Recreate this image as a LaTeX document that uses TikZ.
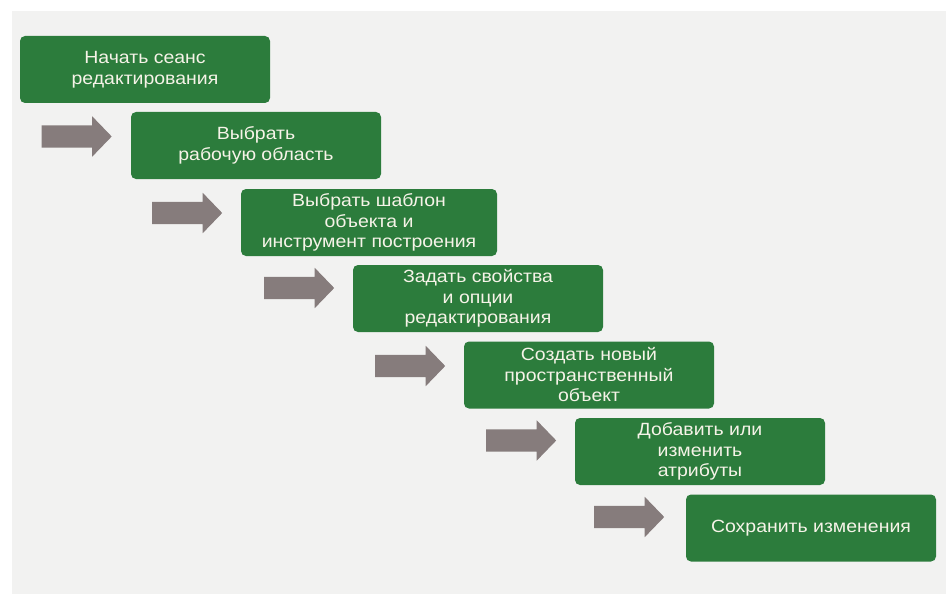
\documentclass[tikz,border=0pt]{standalone}
\usepackage{fontspec}
\setmainfont{Liberation Sans}[FakeStretch=1.1]
\usetikzlibrary{shapes.arrows}
\definecolor{stepgreen}{RGB}{44,124,60}
\definecolor{steptext}{RGB}{246,243,232}
\definecolor{arrowgray}{RGB}{134,124,124}
\definecolor{pagegray}{RGB}{242,242,241}
\begin{document}
\begin{tikzpicture}[x=1pt,y=-1pt,
  stepbox/.style={rectangle, rounded corners=5pt, fill=stepgreen, draw=none,
    text=steptext, align=center, minimum width=250pt, minimum height=67pt,
    inner sep=2pt, font=\fontsize{17.7}{20.5}\selectfont},
  flowarrow/.style={single arrow, fill=arrowgray, draw=none, inner sep=11pt,
    single arrow head extend=9pt, single arrow tip angle=92,
    minimum height=70pt, anchor=tail}]
  % page
  \fill[white] (0,0) rectangle (946,594);
  \fill[pagegray] (12,11) rectangle (946,594);
  \useasboundingbox (0,0) rectangle (946,594);

  % steps
  \node[stepbox] (s1) at (145,69.5) {Начать сеанс\\редактирования};
  \node[stepbox] (s2) at (256,145.5) {Выбрать\\рабочую область};
  \node[stepbox, minimum width=256pt] (s3) at (369,222.5) {Выбрать шаблон\\объекта и\\инструмент построения};
  \node[stepbox] (s4) at (478,298.5) {Задать свойства\\и опции\\редактирования};
  \node[stepbox] (s5) at (589,375) {Создать новый\\пространственный\\объект};
  \node[stepbox] (s6) at (700,451.5) {Добавить или\\изменить\\атрибуты};
  \node[stepbox] (s7) at (811,528) {Сохранить изменения};

  % block arrows between steps
  \node[flowarrow] (a1) at (41.5,136.5) {};
  \node[flowarrow] (a2) at (152,213) {};
  \node[flowarrow] (a3) at (264,288) {};
  \node[flowarrow] (a4) at (375,366) {};
  \node[flowarrow] (a5) at (486,440.5) {};
  \node[flowarrow] (a6) at (594,517) {};
\end{tikzpicture}
\end{document}
